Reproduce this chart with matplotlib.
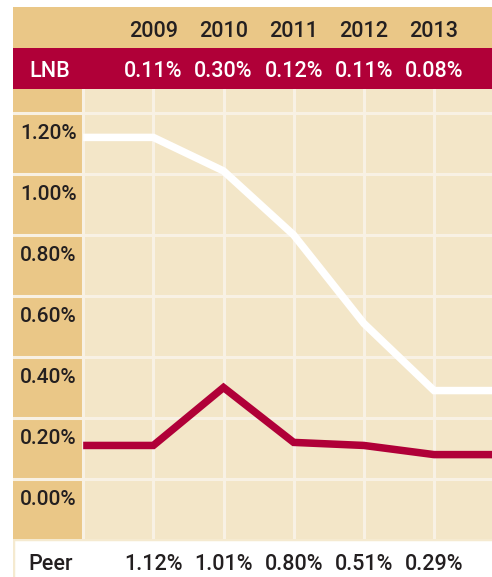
import matplotlib
matplotlib.use('Agg')
import matplotlib.pyplot as plt
from matplotlib import font_manager as fm

# ---- data ----
years = ['2009', '2010', '2011', '2012', '2013']
lnb = [0.11, 0.30, 0.12, 0.11, 0.08]
peer = [1.12, 1.01, 0.80, 0.51, 0.29]
yticks = [0.0, 0.2, 0.4, 0.6, 0.8, 1.0, 1.2]
ytick_labels = ['0.00%', '0.20%', '0.40%', '0.60%', '0.80%', '1.00%', '1.20%']

# ---- style ----
TAN = '#EAC787'
LIGHT = '#F3E6C8'
RED = '#B00038'
GRID = '#F8F1E4'
DARK = '#231F20'
CREAM = '#F5EAD0'

names = {f.name for f in fm.fontManager.ttflist}
FAM = [n for n in ['Roboto', 'Liberation Sans', 'DejaVu Sans'] if n in names]
WEIGHT = 'medium'
FS = 15.5

W, H = 492, 577
fig = plt.figure(figsize=(W / 100, H / 100), dpi=100)
fig.patch.set_facecolor('white')


def rect(x0, y0, x1, y1):
    return [x0 / W, 1 - y1 / H, (x1 - x0) / W, (y1 - y0) / H]


XMIN, XMAX = -2.0, 4.826
ax = fig.add_axes(rect(13, 89, 492, 539))
axh = fig.add_axes(rect(13, 7, 492, 89))
axp = fig.add_axes(rect(13, 539, 492, 577))
for a in (ax, axh, axp):
    a.set_xlim(XMIN, XMAX)
    a.set_xticks([])
    a.set_yticks([])
    for s in a.spines.values():
        s.set_visible(False)

# main plot area
ax.set_ylim((479 - 539) / 305, 1.2 + 24 / 305)
ax.set_facecolor(LIGHT)
ax.axvspan(XMIN, -1, color=TAN, zorder=0, lw=0)
for v in yticks:
    ax.axhline(v, color=GRID, lw=2.2, zorder=1)
for i in range(-1, len(years)):
    ax.axvline(i, color=GRID, lw=2.2, zorder=1)

xs = [-1] + list(range(len(years))) + [XMAX]
ax.plot(xs, [peer[0]] + peer + [peer[-1]], color='white', lw=5.4,
        solid_joinstyle='miter', solid_capstyle='butt', zorder=3)
ax.plot(xs, [lnb[0]] + lnb + [lnb[-1]], color=RED, lw=5.4,
        solid_joinstyle='miter', solid_capstyle='butt', zorder=3)

for v, lbl in zip(yticks, ytick_labels):
    ax.annotate(lbl, (-1.5, v), xytext=(0, -19), textcoords='offset points',
                ha='center', va='baseline', fontsize=15, color=DARK,
                family=FAM, weight=WEIGHT, zorder=4)

# header
axh.set_ylim(0, 2)
axh.axhspan(1, 2, color=TAN, lw=0)
axh.axhspan(0, 1, color=RED, lw=0)
for i, y in enumerate(years):
    axh.text(i, 1.268, y, ha='center', va='baseline', fontsize=FS,
             color=DARK, family=FAM, weight=WEIGHT)
axh.text((29 - 13) / 479, 0.293 / 2, 'LNB', transform=axh.transAxes,
         ha='left', va='baseline', fontsize=FS, color='white', family=FAM,
         weight=WEIGHT)
for i, v in enumerate(lnb):
    axh.text(i, 0.293, f'{v:.2f}%', ha='center', va='baseline',
             fontsize=FS, color='white', family=FAM, weight=WEIGHT)

# peer row
axp.set_ylim(0, 1)
axp.set_facecolor('white')
axp.axhline(1, color=CREAM, lw=2.5)
axp.axvline(XMIN, color=CREAM, lw=2.5)
axp.text((28 - 13) / 479, 0.184, 'Peer', transform=axp.transAxes,
         ha='left', va='baseline', fontsize=FS, color=DARK, family=FAM,
         weight=WEIGHT)
for i, v in enumerate(peer):
    axp.text(i, 0.184, f'{v:.2f}%', ha='center', va='baseline',
             fontsize=FS, color=DARK, family=FAM, weight=WEIGHT)

fig.savefig('out.png', dpi=100, facecolor='white')
